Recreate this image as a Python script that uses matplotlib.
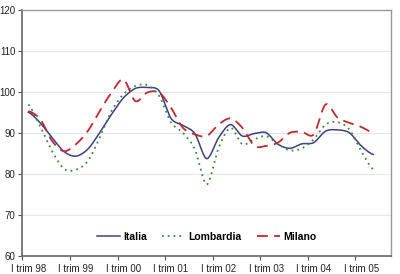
import numpy as np
import matplotlib
matplotlib.use("Agg")
import matplotlib.pyplot as plt

plt.rcParams['font.family'] = ['Liberation Sans', 'DejaVu Sans']

# ---- data ----
quarters = list(range(30))  # I trim 98 ... II trim 05
tick_labels = ["I trim 98", "I trim 99", "I trim 00", "I trim 01",
               "I trim 02", "I trim 03", "I trim 04", "I trim 05"]
italia = [95.0, 92.4, 88.8, 85.4, 84.3, 86.0, 90.0, 94.5, 98.5, 100.8,
          101.0, 100.2, 93.5, 91.8, 89.8, 83.7, 88.8, 92.0, 89.2, 89.8,
          90.0, 87.2, 86.2, 87.3, 87.6, 90.4, 90.7, 90.0, 86.8, 84.7]
lombardia = [96.9, 91.5, 85.5, 81.2, 81.0, 83.1, 88.8, 95.3, 99.4, 101.4,
             101.6, 99.0, 92.5, 90.0, 86.0, 77.4, 86.3, 91.2, 87.2, 88.4,
             89.2, 87.2, 85.7, 86.2, 88.4, 92.0, 92.6, 90.8, 85.5, 81.1]
milano = [95.3, 93.3, 88.0, 85.5, 87.2, 90.4, 95.3, 99.8, 103.0, 97.7,
          99.8, 99.8, 96.1, 91.2, 89.6, 89.2, 92.0, 93.5, 91.2, 86.8,
          86.8, 87.6, 90.0, 90.2, 89.6, 96.9, 93.7, 92.4, 91.4, 90.0]
series_names = ["Italia", "Lombardia", "Milano"]


def smooth(x, y, n=20):
    x = np.asarray(x, float)
    y = np.asarray(y, float)
    xp = np.concatenate([[2 * x[0] - x[1]], x, [2 * x[-1] - x[-2]]])
    yp = np.concatenate([[y[0]], y, [y[-1]]])
    xs, ys = [], []
    t = np.linspace(0, 1, n, endpoint=False)
    for i in range(1, len(xp) - 2):
        p0, p1, p2, p3 = i - 1, i, i + 1, i + 2
        for arr, out in ((xp, xs), (yp, ys)):
            a0, a1, a2, a3 = arr[p0], arr[p1], arr[p2], arr[p3]
            m1 = (a2 - a0) / 2 * 0.9
            m2 = (a3 - a1) / 2 * 0.9
            h00 = 2 * t**3 - 3 * t**2 + 1
            h10 = t**3 - 2 * t**2 + t
            h01 = -2 * t**3 + 3 * t**2
            h11 = t**3 - t**2
            out.extend(h00 * a1 + h10 * m1 + h01 * a2 + h11 * m2)
    xs.append(x[-1])
    ys.append(y[-1])
    return np.array(xs), np.array(ys)


fig = plt.figure(figsize=(4.0, 2.74), dpi=100)
ax = fig.add_axes([0.056, 0.066, 0.9215, 0.899])

styles = [
    dict(color='#3c3f86', lw=1.1, ls='-'),
    dict(color='#3a8a3a', lw=1.3, ls=(0, (1, 2.2))),
    dict(color='#c0282d', lw=1.3, ls=(0, (6, 3.5))),
]
for vals, name, st in zip([italia, lombardia, milano], series_names, styles):
    sx, sy = smooth(quarters, vals)
    ax.plot(sx, sy, label=name, **st)

ax.set_xlim(-0.5, 30.5)
ax.set_ylim(60, 120)
ax.set_yticks(np.arange(60, 121, 10))
ax.yaxis.grid(True, color='#e6e6e6', lw=0.8)
ax.set_axisbelow(True)

ax.set_xticks(np.arange(-0.5, 30.5, 4))
ax.set_xticklabels([])
ax.set_xticks(np.arange(0, 30, 4), minor=True)
ax.set_xticklabels(tick_labels, minor=True)
ax.tick_params(axis='x', which='minor', length=0, pad=6, labelsize=7, labelcolor='#222222')
ax.tick_params(axis='x', which='major', length=3, color='#555555', direction='out')
ax.tick_params(axis='y', length=3, color='#555555', labelsize=7, labelcolor='#222222', pad=2)

for side in ['left', 'bottom']:
    ax.spines[side].set_color('#666666')
    ax.spines[side].set_linewidth(1.2)
for side in ['top', 'right']:
    ax.spines[side].set_color('#999999')
    ax.spines[side].set_linewidth(1.0)

leg = ax.legend(loc='lower center', bbox_to_anchor=(0.5, 0.02), ncol=3, frameon=False,
                prop=dict(weight='bold', size=7.5), handlelength=2.2, columnspacing=1.5,
                handletextpad=0.3)

fig.savefig('out.png', dpi=100)
